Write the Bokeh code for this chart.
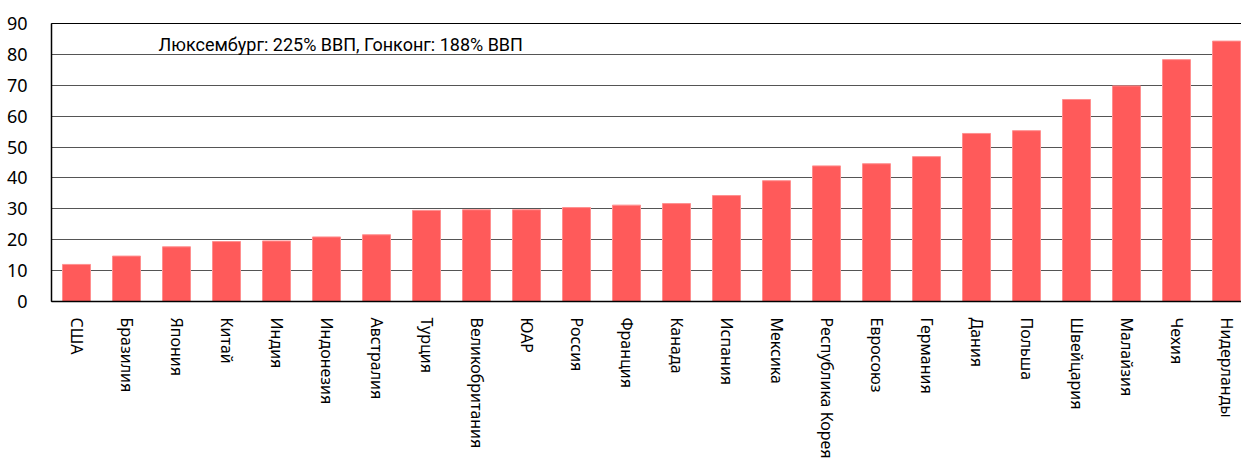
from bokeh.plotting import figure
from bokeh.models import Range1d, FixedTicker, Label
from bokeh.embed import file_html
from bokeh.resources import INLINE

countries = ["США", "Бразилия", "Япония", "Китай", "Индия", "Индонезия", "Австралия",
             "Турция", "Великобритания", "ЮАР", "Россия", "Франция", "Канада", "Испания",
             "Мексика", "Республика Корея", "Евросоюз", "Германия", "Дания", "Польша",
             "Швейцария", "Малайзия", "Чехия", "Нидерланды"]
values = [12.0, 14.7, 17.7, 19.4, 19.6, 20.9, 21.6,
          29.5, 29.7, 29.7, 30.4, 31.2, 31.7, 34.3,
          39.1, 43.9, 44.6, 46.9, 54.4, 55.3,
          65.4, 69.8, 78.3, 84.3]
y_ticks = [0, 10, 20, 30, 40, 50, 60, 70, 80, 90]
note = "Люксембург: 225% ВВП, Гонконг: 188% ВВП"

xs = list(range(len(countries)))

p = figure(frame_width=1200, frame_height=278,
           x_range=Range1d(-0.5, len(countries) - 0.5), y_range=Range1d(0, 90),
           output_backend="svg", toolbar_location=None,
           min_border_left=51, min_border_top=23, min_border_right=0, min_border_bottom=0,
           background_fill_color="white", border_fill_color="white")

p.vbar(x=xs, top=values, width=0.56, bottom=0,
       fill_color="#FF5A5A", line_color="#FF8F8F", line_width=1)

p.outline_line_color = "black"
p.outline_line_width = 1
p.xgrid.visible = False
p.ygrid.grid_line_color = "#555555"
p.ygrid.grid_line_width = 1.2
p.ygrid.ticker = FixedTicker(ticks=y_ticks)

p.xaxis.ticker = FixedTicker(ticks=xs)
p.xaxis.major_label_overrides = {i: c for i, c in enumerate(countries)}
p.xaxis.major_label_orientation = "vertical"
p.xaxis.major_label_standoff = 10
p.xaxis.major_label_text_font = "Noto Sans"
p.xaxis.major_label_text_font_size = "16px"
p.xaxis.major_label_text_color = "black"

p.yaxis.ticker = FixedTicker(ticks=y_ticks)
p.yaxis.major_label_standoff = 18
p.yaxis.major_label_text_font = "Noto Sans"
p.yaxis.major_label_text_font_size = "18px"
p.yaxis.major_label_text_color = "black"

for ax in (p.xaxis[0], p.yaxis[0]):
    ax.major_tick_line_color = None
    ax.minor_tick_line_color = None
    ax.axis_line_color = "black"
    ax.axis_line_width = 1.5

p.add_layout(Label(x=1.64, y=83.2, text=note, text_baseline="middle",
                   text_font="Roboto", text_font_size="18px", text_color="black"))

open("out.html", "w").write(file_html(p, INLINE))
